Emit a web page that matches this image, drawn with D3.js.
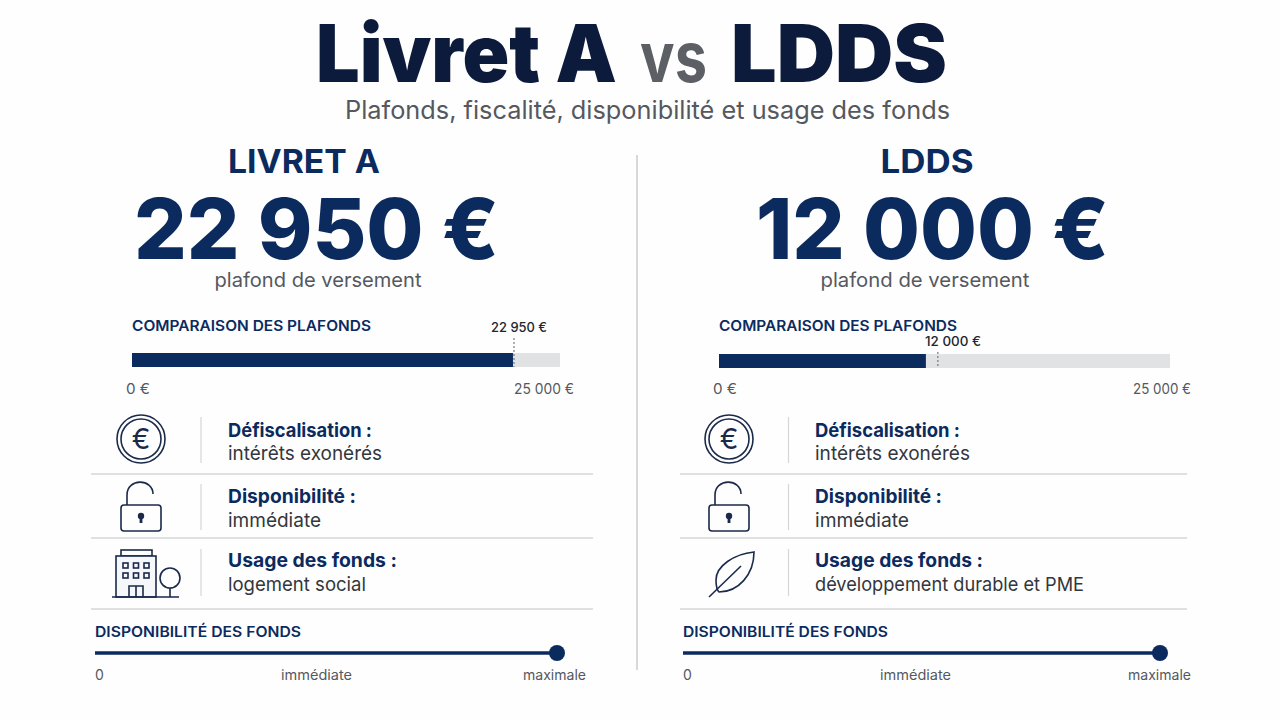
<!DOCTYPE html>
<html lang="fr">
<head>
<meta charset="utf-8">
<title>Livret A vs LDDS</title>
<script src="https://cdnjs.cloudflare.com/ajax/libs/d3/7.8.5/d3.min.js"></script>
<style>
  html, body { margin: 0; padding: 0; background: #fefefe; }
  svg { display: block; }
  text { font-family: Inter, "Noto Sans", sans-serif; }
</style>
</head>
<body>
<div id="chart"></div>
<script>
// data
var panelNames = ["LIVRET A", "LDDS"];
var plafonds = [22950, 12000];
var plafondLabels = ["22 950 €", "12 000 €"];
var plafondTicks = [0, 25000];
var plafondTickLabels = ["0 €", "25 000 €"];
var rowTitles = ["Défiscalisation :", "Disponibilité :", "Usage des fonds :"];
var rowValues = [
    ["intérêts exonérés", "immédiate", "logement social"],
    ["intérêts exonérés", "immédiate", "développement durable et PME"]
];
var dispoValues = [100, 100];
var dispoDomain = [0, 100];
var dispoTickLabels = ["0", "immédiate", "maximale"];

var navy = "#0b2b5f", ink = "#0c1a3c", grey = "#55585e", rule = "#d4d6d8";

// one layout per panel, the two sides do not line up exactly
var layouts = [
    { cx: 304, sub: 318, bigX: 134, bigW: 365, nameW: 152, subW: 207,
      x0: 132, x1: 547, trackEnd: 560, barY: 353, markDx: 1, markLabelX: 491, markLabelY: 332, markTop: 338,
      headW: 239, tick0: 126, tick1: 514, tick1W: 60,
      ruleX0: 91, ruleX1: 593, sepX: 201, textX: 228, iconDx: 0,
      titleW: [144, 128, 169], valueW: [154, 93, 138],
      dispoX0: 95, dispoX1: 557, dispoHeadW: 206, midX: 281, maxX: 523, maxW: 63 },
    { cx: 927, sub: 925, bigX: 756, bigW: 353, nameW: 93, subW: 209,
      x0: 719, x1: 1150, trackEnd: 1170, barY: 354, markDx: 12, markLabelX: 925, markLabelY: 346, markTop: 352,
      headW: 238, tick0: 713, tick1: 1133, tick1W: 58,
      ruleX0: 680, ruleX1: 1187, sepX: 788.5, textX: 815, iconDx: 588,
      titleW: [145, 127, 168], valueW: [155, 94, 269],
      dispoX0: 683, dispoX1: 1160, dispoHeadW: 205, midX: 880, maxX: 1128, maxW: 63 }
];

var svg = d3.select("#chart").append("svg")
    .attr("width", 1280)
    .attr("height", 720);

svg.append("rect").attr("width", 1280).attr("height", 720).attr("fill", "#fefefe");

// text with its width pinned to what the picture shows
function label(g, str, x, y, size, weight, fill, w) {
    var t = g.append("text")
        .attr("x", x)
        .attr("y", y)
        .attr("font-size", size)
        .attr("font-weight", weight)
        .attr("fill", fill)
        .text(str);
    if (w) {
        t.attr("textLength", w).attr("lengthAdjust", "spacingAndGlyphs");
    }
    return t;
}

// header
label(svg, "Livret A", 316, 82, 80, 900, ink, 301);
label(svg, "vs", 640, 82, 70, 700, "#5c5f64", 67);
label(svg, "LDDS", 731, 82, 80, 900, ink, 216);
label(svg, "Plafonds, fiscalité, disponibilité et usage des fonds", 345, 119, 25, 400, grey, 605);

svg.append("line")
    .attr("x1", 637).attr("x2", 637)
    .attr("y1", 155).attr("y2", 670)
    .attr("stroke", "#c9cbcd").attr("stroke-width", 1.5);

function iconStyle(sel) {
    return sel.attr("fill", "none").attr("stroke", "#1b2a4a").attr("stroke-width", 1.6);
}

function drawEuro(g) {
    iconStyle(g.append("circle")).attr("cx", 141).attr("cy", 439).attr("r", 24);
    iconStyle(g.append("circle")).attr("cx", 141).attr("cy", 439).attr("r", 20);
    label(g, "€", 141, 449, 28, 400, "#1b2a4a").attr("text-anchor", "middle");
}

function drawLock(g) {
    iconStyle(g.append("rect")).attr("x", 121).attr("y", 505).attr("width", 40).attr("height", 26).attr("rx", 3);
    iconStyle(g.append("path")).attr("d", "M127,505 V495 C127,478 153,478 153,494");
    g.append("circle").attr("cx", 141).attr("cy", 516).attr("r", 3.2).attr("fill", "#1b2a4a");
    g.append("rect").attr("x", 139.6).attr("y", 517).attr("width", 2.8).attr("height", 6).attr("fill", "#1b2a4a");
}

function drawBuilding(g) {
    iconStyle(g.append("rect")).attr("x", 121).attr("y", 550).attr("width", 31).attr("height", 6);
    iconStyle(g.append("rect")).attr("x", 116).attr("y", 556).attr("width", 40).attr("height", 41).attr("fill", "#f6f7fb");
    [563, 573].forEach(function (y) {
        [123, 133.5, 144].forEach(function (x) {
            iconStyle(g.append("rect")).attr("x", x).attr("y", y).attr("width", 5).attr("height", 5);
        });
    });
    iconStyle(g.append("path")).attr("d", "M129,597 V586 H143 V597 M136,586 V597");
    iconStyle(g.append("path")).attr("d", "M112,597 H179 M170,588 V597");
    iconStyle(g.append("circle")).attr("cx", 170).attr("cy", 578).attr("r", 10);
}

function drawLeaf(g) {
    iconStyle(g.append("path")).attr("d", "M754,552 C734,554 716,566 716,580 C716,586 717,590 719,592 C738,592 754,575 754,552 Z");
    iconStyle(g.append("path")).attr("d", "M709,597 L741,566");
}

var iconSets = [
    [drawEuro, drawLock, drawBuilding],
    [drawEuro, drawLock, drawLeaf]
];

var rowRules = [474, 538, 609];
var rowSeps = [[417, 463], [484, 530], [549, 596]];
var rowTitleY = [437, 503, 567];
var rowValueY = [460, 527, 591];

panelNames.forEach(function (name, i) {
    var l = layouts[i];
    var g = svg.append("g").attr("class", "panel");

    label(g, name, l.cx - l.nameW / 2, 173, 33, 700, navy, l.nameW);
    label(g, plafondLabels[i], l.bigX, 259, 84, 800, navy, l.bigW);
    label(g, "plafond de versement", l.sub - l.subW / 2, 287, 20, 400, grey, l.subW);

    // plafond bar
    var x = d3.scaleLinear().domain(d3.extent(plafondTicks)).range([l.x0, l.x1]);
    label(g, "COMPARAISON DES PLAFONDS", l.x0, 331, 14.5, 600, navy, l.headW);

    g.append("rect")
        .attr("x", l.x0).attr("y", l.barY)
        .attr("width", l.trackEnd - l.x0).attr("height", 14)
        .attr("fill", "#e1e2e3");
    g.append("rect")
        .attr("x", x(0)).attr("y", l.barY)
        .attr("width", x(plafonds[i]) - x(0)).attr("height", 14)
        .attr("fill", navy);
    g.append("line")
        .attr("x1", x(plafonds[i]) + l.markDx).attr("x2", x(plafonds[i]) + l.markDx)
        .attr("y1", l.markTop).attr("y2", l.barY + 14)
        .attr("stroke", "#5c6068").attr("stroke-width", 1)
        .attr("stroke-dasharray", "2 2");
    label(g, plafondLabels[i], l.markLabelX, l.markLabelY, 13, 500, "#22262e", 56);

    label(g, plafondTickLabels[0], l.tick0, 394, 14, 400, grey, 24);
    label(g, plafondTickLabels[1], l.tick1, 394, 14, 400, grey, l.tick1W);

    // feature rows
    rowTitles.forEach(function (title, r) {
        g.append("line")
            .attr("x1", l.ruleX0).attr("x2", l.ruleX1)
            .attr("y1", rowRules[r]).attr("y2", rowRules[r])
            .attr("stroke", rule).attr("stroke-width", 1.5);
        g.append("line")
            .attr("x1", l.sepX).attr("x2", l.sepX)
            .attr("y1", rowSeps[r][0]).attr("y2", rowSeps[r][1])
            .attr("stroke", rule).attr("stroke-width", 1.2);
        label(g, title, l.textX, rowTitleY[r], 19, 700, navy, l.titleW[r]);
        label(g, rowValues[i][r], l.textX, rowValueY[r], 19, 400, "#33373d", l.valueW[r]);

        var iconG = g.append("g");
        if (iconSets[i][r] !== drawLeaf) {
            iconG.attr("transform", "translate(" + l.iconDx + ",0)");
        }
        iconSets[i][r](iconG);
    });

    // availability slider
    var d = d3.scaleLinear().domain(dispoDomain).range([l.dispoX0, l.dispoX1]);
    label(g, "DISPONIBILITÉ DES FONDS", l.dispoX0, 637, 14.5, 600, navy, l.dispoHeadW);
    g.append("line")
        .attr("x1", d(dispoDomain[0])).attr("x2", d(dispoValues[i]))
        .attr("y1", 653).attr("y2", 653)
        .attr("stroke", navy).attr("stroke-width", 3.5);
    g.append("circle")
        .attr("cx", d(dispoValues[i])).attr("cy", 653).attr("r", 8)
        .attr("fill", navy);
    label(g, dispoTickLabels[0], l.dispoX0, 680, 14, 400, grey);
    label(g, dispoTickLabels[1], l.midX, 680, 14, 400, grey, 71);
    label(g, dispoTickLabels[2], l.maxX, 680, 14, 400, grey, l.maxW);
});
</script>
</body>
</html>
